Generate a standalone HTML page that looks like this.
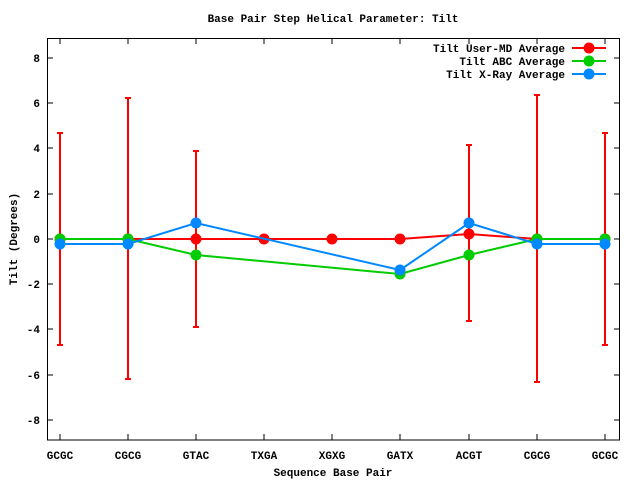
<!DOCTYPE html>
<html><head><meta charset="utf-8"><style>
body{margin:0;background:#fff}
svg{display:block}
text{font-family:"Liberation Mono",monospace;font-weight:bold;font-size:11px;fill:#000}
</style></head><body>
<svg width="640" height="480" viewBox="0 0 640 480">
<text x="333" y="22" text-anchor="middle">Base Pair Step Helical Parameter: Tilt</text>
<rect x="47.5" y="38.5" width="572" height="401.5" fill="none" stroke="#000" stroke-width="1"/>
<g stroke="#000" stroke-width="1">
<line x1="47" y1="58" x2="53" y2="58"/><line x1="620" y1="58" x2="614" y2="58"/>
<line x1="47" y1="103" x2="53" y2="103"/><line x1="620" y1="103" x2="614" y2="103"/>
<line x1="47" y1="148" x2="53" y2="148"/><line x1="620" y1="148" x2="614" y2="148"/>
<line x1="47" y1="194" x2="53" y2="194"/><line x1="620" y1="194" x2="614" y2="194"/>
<line x1="47" y1="239" x2="53" y2="239"/><line x1="620" y1="239" x2="614" y2="239"/>
<line x1="47" y1="284" x2="53" y2="284"/><line x1="620" y1="284" x2="614" y2="284"/>
<line x1="47" y1="329" x2="53" y2="329"/><line x1="620" y1="329" x2="614" y2="329"/>
<line x1="47" y1="375" x2="53" y2="375"/><line x1="620" y1="375" x2="614" y2="375"/>
<line x1="47" y1="420" x2="53" y2="420"/><line x1="620" y1="420" x2="614" y2="420"/>
<path d="M60 440v-6M128 440v-6M196 440v-6M264 440v-6M332 440v-6M400 440v-6M469 440v-6M537 440v-6M605 440v-6M60 38v6M128 38v6M196 38v6M264 38v6M332 38v6M400 38v6M469 38v6M537 38v6M605 38v6"/>
</g>
<g text-anchor="end">
<text x="40" y="62">8</text><text x="40" y="107">6</text><text x="40" y="152">4</text><text x="40" y="198">2</text><text x="40" y="243">0</text><text x="40" y="288">-2</text><text x="40" y="333">-4</text><text x="40" y="379">-6</text><text x="40" y="424">-8</text>
</g>
<g text-anchor="middle">
<text x="60" y="459">GCGC</text><text x="128" y="459">CGCG</text><text x="196" y="459">GTAC</text><text x="264" y="459">TXGA</text><text x="332" y="459">XGXG</text><text x="400" y="459">GATX</text><text x="469" y="459">ACGT</text><text x="537" y="459">CGCG</text><text x="605" y="459">GCGC</text>
<text x="333" y="476">Sequence Base Pair</text>
<text transform="translate(17,239) rotate(-90)">Tilt (Degrees)</text>
</g>
<g stroke="#f00" stroke-width="2" fill="none">
<path d="M60 133V345M57 133h6M57 345h6"/>
<path d="M128 98V379M125 98h6M125 379h6"/>
<path d="M196 151V327M193 151h6M193 327h6"/>
<path d="M469 145V321M466 145h6M466 321h6"/>
<path d="M537 95V382M534 95h6M534 382h6"/>
<path d="M605 133V345M602 133h6M602 345h6"/>
</g>
<polyline points="60,239 128,239 196,239 264,239 332,239 400,239 469,234 537,239 605,239" fill="none" stroke="#f00" stroke-width="2"/>
<g fill="#f00"><circle cx="60" cy="239" r="5.5"/><circle cx="128" cy="239" r="5.5"/><circle cx="196" cy="239" r="5.5"/><circle cx="264" cy="239" r="5.5"/><circle cx="332" cy="239" r="5.5"/><circle cx="400" cy="239" r="5.5"/><circle cx="469" cy="234" r="5.5"/><circle cx="537" cy="239" r="5.5"/><circle cx="605" cy="239" r="5.5"/></g>
<polyline points="60,239 128,239 196,255 400,274 469,255 537,239 605,239" fill="none" stroke="#0c0" stroke-width="2"/>
<g fill="#0c0"><circle cx="60" cy="239" r="5.5"/><circle cx="128" cy="239" r="5.5"/><circle cx="196" cy="255" r="5.5"/><circle cx="400" cy="274" r="5.5"/><circle cx="469" cy="255" r="5.5"/><circle cx="537" cy="239" r="5.5"/><circle cx="605" cy="239" r="5.5"/></g>
<polyline points="60,244 128,244 196,223 400,270 469,223 537,244 605,244" fill="none" stroke="#08f" stroke-width="2"/>
<g fill="#08f"><circle cx="60" cy="244" r="5.5"/><circle cx="128" cy="244" r="5.5"/><circle cx="196" cy="223" r="5.5"/><circle cx="400" cy="270" r="5.5"/><circle cx="469" cy="223" r="5.5"/><circle cx="537" cy="244" r="5.5"/><circle cx="605" cy="244" r="5.5"/></g>
<g text-anchor="end">
<text x="565" y="52">Tilt User-MD Average</text>
<text x="565" y="65">Tilt ABC Average</text>
<text x="565" y="78">Tilt X-Ray Average</text>
</g>
<line x1="572" y1="48" x2="606" y2="48" stroke="#f00" stroke-width="2"/><circle cx="589" cy="48" r="5.5" fill="#f00"/>
<line x1="572" y1="61" x2="606" y2="61" stroke="#0c0" stroke-width="2"/><circle cx="589" cy="61" r="5.5" fill="#0c0"/>
<line x1="572" y1="74" x2="606" y2="74" stroke="#08f" stroke-width="2"/><circle cx="589" cy="74" r="5.5" fill="#08f"/>
</svg>
</body></html>
